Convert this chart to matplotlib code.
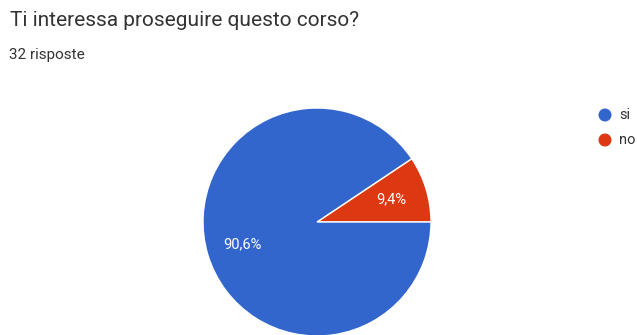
import matplotlib
matplotlib.use("Agg")
import matplotlib.pyplot as plt
from matplotlib.patches import Ellipse

plt.rcParams['font.family'] = ['Roboto', 'DejaVu Sans']

# Dati
labels = ["si", "no"]
values = [29, 3]
colors = ["#3366cc", "#dc3912"]
title = "Ti interessa proseguire questo corso?"
subtitle = "32 risposte"

W, H = 637, 335
fig = plt.figure(figsize=(W / 100, H / 100), dpi=100)

# pie centrata a (317, 222) px con raggio 114 px
cx, cy, r = 317, 222, 114
ax = fig.add_axes([(cx - r) / W, (H - cy - r) / H, 2 * r / W, 2 * r / H])

# il "no" parte dalle ore 3 in senso antiorario, poi il "si"
order = [1, 0]
wedges, texts, autotexts = ax.pie(
    [values[i] for i in order],
    colors=[colors[i] for i in order],
    startangle=0,
    counterclock=True,
    radius=1,
    autopct=lambda p: f"{p:.1f}%".replace(".", ","),
    pctdistance=0.68,
    wedgeprops=dict(edgecolor="white", linewidth=1),
    textprops=dict(color="white", fontsize=10.5),
)
ax.set_xlim(-1, 1)
ax.set_ylim(-1, 1)
ax.axis("off")

fig.text(10 / W, 1 - 21 / H, title, fontsize=15, color="#333333", va="center", ha="left")
fig.text(9 / W, 1 - 55 / H, subtitle, fontsize=11, color="#333333", va="center", ha="left")

# legenda
for i, lab in enumerate(labels):
    y = 1 - (115 + 25 * i) / H
    fig.add_artist(Ellipse((605 / W, y), 13 / W, 13 / H, transform=fig.transFigure,
                           facecolor=colors[i], edgecolor="none"))
    fig.text(619 / W, y, lab, color="#333333", fontsize=10.5, ha="left", va="center")

fig.savefig("out.png", dpi=100, facecolor="white")
